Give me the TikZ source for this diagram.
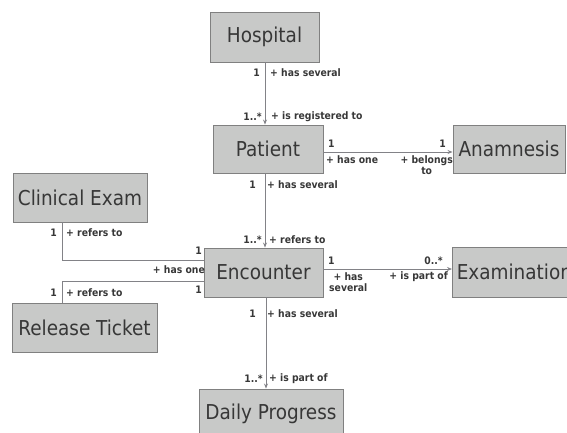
\documentclass[tikz,border=0pt]{standalone}
\usepackage{fontspec}
\setmainfont{DejaVu Sans Condensed}
\usetikzlibrary{arrows.meta}
\definecolor{boxfill}{RGB}{200,201,200}
\definecolor{boxline}{RGB}{128,128,128}
\definecolor{txt}{RGB}{55,55,55}
\definecolor{conn}{RGB}{130,130,135}
\begin{document}
\begin{tikzpicture}[x=1pt,y=-1pt,
  cls/.style={draw=boxline,line width=0.9pt,fill=boxfill,text=txt,inner sep=0pt,
    font=\fontsize{20.5}{24}\selectfont},
  lab/.style={text=txt,inner sep=0pt,font=\fontsize{10.3}{11}\selectfont\bfseries},
  conline/.style={draw=conn,line width=0.8pt},
  arr/.style={conline,-{Stealth[length=5pt,width=4pt]}}]
\useasboundingbox (0,0) rectangle (567,432);
% classes
\node[cls,minimum width=109pt,minimum height=50pt] (hosp) at (264.5,37) {Hospital};
\node[cls,minimum width=110pt,minimum height=48pt] (pat) at (268,149) {Patient};
\node[cls,minimum width=112pt,minimum height=48pt] (anam) at (509,149) {Anamnesis};
\node[cls,minimum width=134pt,minimum height=49pt] (ce) at (80,197.5) {Clinical Exam};
\node[cls,minimum width=119pt,minimum height=49pt] (enc) at (263.5,272.5) {Encounter};
\node[cls,minimum width=124pt,minimum height=50pt,anchor=west] (exam) at (452,272) {Examination};
\node[cls,minimum width=145pt,minimum height=49pt] (rt) at (84.5,327.5) {Release Ticket};
\node[cls,minimum width=144pt,minimum height=49pt] (dp) at (271,413.5) {Daily Progress};
% connectors
\draw[arr] (hosp.south -| 265,0) -- (pat.north -| 265,0);
\draw[arr] (pat.south -| 265,0) -- (enc.north -| 265,0);
\draw[arr] (enc.south -| 266,0) -- (dp.north -| 266,0);
\draw[arr] (pat.east |- 0,152) -- (anam.west |- 0,152);
\draw[arr] (enc.east |- 0,269) -- (exam.west |- 0,269);
\draw[conline] (ce.south -| 62,0) |- (enc.west |- 0,260);
\draw[conline] (enc.west |- 0,281) -| (rt.north -| 62,0);
% labels Hospital-Patient
\node[lab,anchor=east] (l1) at (260,73) {1};
\node[lab,anchor=west] (l2) at (270,73) {+ has several};
\node[lab,anchor=east] (l3) at (262,117) {1..*};
\node[lab,anchor=west] (l4) at (271,117) {+ is registered to};
% Patient-Encounter
\node[lab,anchor=east] (l5) at (256,185) {1};
\node[lab,anchor=west] (l6) at (267,185) {+ has several};
\node[lab,anchor=east] (l7) at (262,240) {1..*};
\node[lab,anchor=west] (l8) at (269,240) {+ refers to};
% Patient-Anamnesis
\node[lab,anchor=west] (l9) at (328,144) {1};
\node[lab,anchor=west] (l10) at (326,160) {+ has one};
\node[lab,anchor=east] (l11) at (446,144) {1};
\node[lab,anchor=north east,align=center] (l12) at (453,155) {+ belongs\\to};
% Encounter-Examination
\node[lab,anchor=west] (l13) at (328,261) {1};
\node[lab,anchor=north west,align=center] (l14) at (329,272) {+ has\\several};
\node[lab,anchor=east] (l15) at (443,261) {0..*};
\node[lab,anchor=east] (l16) at (448,277) {+ is part of};
% Clinical Exam
\node[lab,anchor=east] (l17) at (57,233) {1};
\node[lab,anchor=west] (l18) at (66,233) {+ refers to};
\node[lab,anchor=east] (l19) at (202,251) {1};
\node[lab,anchor=east] (l20) at (205,270) {+ has one};
% Release Ticket
\node[lab,anchor=east] (l21) at (57,293) {1};
\node[lab,anchor=west] (l22) at (66,293) {+ refers to};
\node[lab,anchor=east] (l23) at (202,290) {1};
% Encounter-Daily Progress
\node[lab,anchor=east] (l24) at (256,314) {1};
\node[lab,anchor=west] (l25) at (267,314) {+ has several};
\node[lab,anchor=east] (l26) at (263,379) {1..*};
\node[lab,anchor=west] (l27) at (269,379) {+ is part of};
\end{tikzpicture}
\end{document}
